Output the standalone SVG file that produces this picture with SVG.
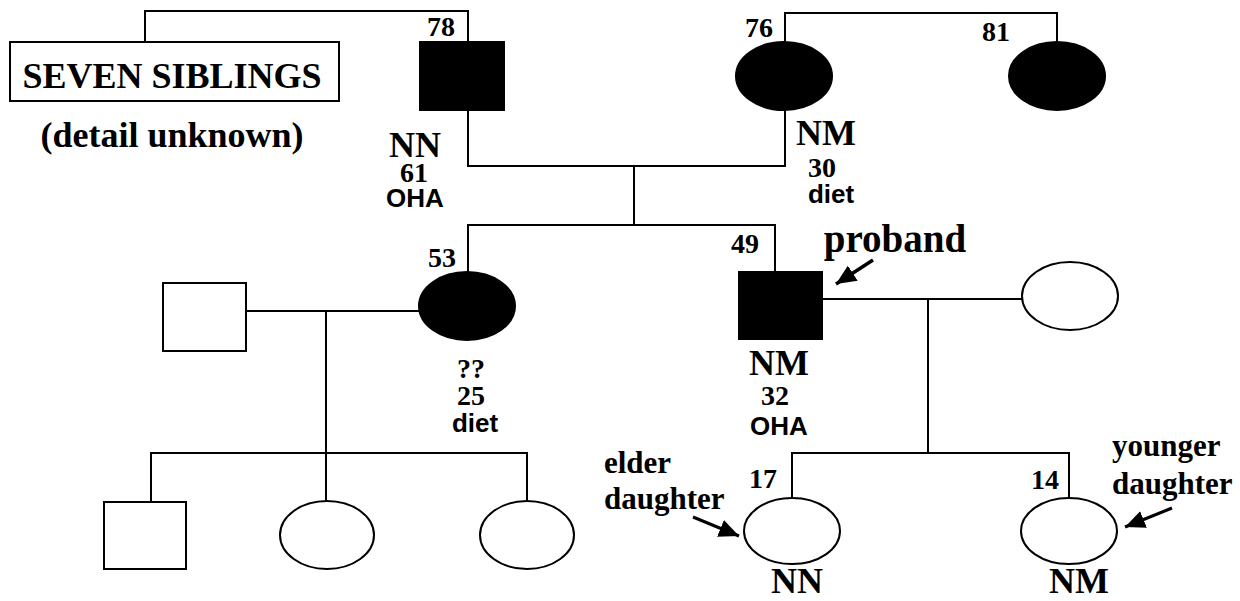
<svg xmlns="http://www.w3.org/2000/svg" width="1240" height="601" viewBox="0 0 1240 601">
  <defs>
    <marker id="arrowhead" markerUnits="userSpaceOnUse" markerWidth="22" markerHeight="18" refX="20" refY="9" orient="auto">
      <path d="M0,0 L20,9 L0,18 Z" fill="#000"/>
    </marker>
  </defs>
  <style>
    .ln{fill:none;stroke:#000;stroke-width:2}
    .ptr{fill:none;stroke:#000;stroke-width:3}
    .aff{fill:#000;stroke:#000;stroke-width:2}
    .unaff{fill:#fff;stroke:#000;stroke-width:2}
    .big{font-family:"Liberation Serif","Times New Roman",serif;font-weight:bold;font-size:36px;text-anchor:middle;fill:#000}
    .age{font-family:"Liberation Serif","Times New Roman",serif;font-weight:bold;font-size:28px;text-anchor:middle;fill:#000}
    .tx{font-family:"Liberation Sans",Arial,sans-serif;font-weight:bold;font-size:26px;text-anchor:middle;fill:#000}
    .tag{font-family:"Liberation Serif","Times New Roman",serif;font-weight:bold;font-size:31px;fill:#000}
  </style>
  <rect width="1240" height="601" fill="#fff"/>

  <!-- connectors: sibship, marriage and descent lines, plus pointer arrows -->
  <g id="connectors">
    <path class="ln" d="M145,42 V11 H468 V42"/>
    <path class="ln" d="M468,110 V166 H785 V110"/>
    <path class="ln" d="M785,42 V13 H1057 V42"/>
    <path class="ln" d="M634,166 V225"/>
    <path class="ln" d="M468,272 V225 H775 V272"/>
    <path class="ln" d="M246,311 H420"/>
    <path class="ln" d="M326,311 V501"/>
    <path class="ln" d="M151,502 V453 H527 V501"/>
    <path class="ln" d="M822,299 H1022"/>
    <path class="ln" d="M928,299 V453"/>
    <path class="ln" d="M792,499 V453 H1069 V499"/>
    <line class="ptr" x1="873" y1="260" x2="836" y2="284" marker-end="url(#arrowhead)" style="stroke-width:3.5"/>
    <line class="ptr" x1="693" y1="517" x2="739" y2="536" marker-end="url(#arrowhead)"/>
    <line class="ptr" x1="1172" y1="508" x2="1125" y2="527" marker-end="url(#arrowhead)"/>
  </g>

  <!-- generation I -->
  <g id="seven-siblings">
    <rect class="unaff" x="10" y="42" width="329" height="59"/>
    <text class="big" x="172" y="88">SEVEN SIBLINGS</text>
    <text class="big" x="172" y="147">(detail unknown)</text>
  </g>
  <g id="grandfather">
    <rect class="aff" x="420" y="42" width="84" height="68"/>
    <text class="age" x="441" y="36">78</text>
    <text class="big" x="415" y="157">NN</text>
    <text class="age" x="414" y="182">61</text>
    <text class="tx" x="415" y="207">OHA</text>
  </g>
  <g id="grandmother">
    <ellipse class="aff" cx="784" cy="76" rx="48" ry="34"/>
    <text class="age" x="759" y="37">76</text>
    <text class="big" x="826" y="145">NM</text>
    <text class="age" x="822" y="177">30</text>
    <text class="tx" x="831" y="203">diet</text>
  </g>
  <g id="great-aunt">
    <ellipse class="aff" cx="1057" cy="76" rx="48" ry="34"/>
    <text class="age" x="996" y="41">81</text>
  </g>

  <!-- generation II -->
  <g id="aunt-spouse">
    <rect class="unaff" x="163" y="283" width="83" height="68"/>
  </g>
  <g id="aunt">
    <ellipse class="aff" cx="467" cy="306" rx="48" ry="34"/>
    <text class="age" x="442" y="267">53</text>
    <text class="age" x="471" y="378">??</text>
    <text class="age" x="471" y="405">25</text>
    <text class="tx" x="475" y="432">diet</text>
  </g>
  <g id="proband">
    <rect class="aff" x="739" y="272" width="83" height="67"/>
    <text class="age" x="745" y="253">49</text>
    <text class="big" x="895" y="252" style="font-size:39px">proband</text>
    <text class="big" x="779" y="375">NM</text>
    <text class="age" x="775" y="405">32</text>
    <text class="tx" x="779" y="435">OHA</text>
  </g>
  <g id="proband-wife">
    <ellipse class="unaff" cx="1070" cy="296" rx="48" ry="34"/>
  </g>

  <!-- generation III -->
  <g id="cousin-1">
    <rect class="unaff" x="104" y="502" width="82" height="67"/>
  </g>
  <g id="cousin-2">
    <ellipse class="unaff" cx="327" cy="535" rx="47" ry="34"/>
  </g>
  <g id="cousin-3">
    <ellipse class="unaff" cx="527" cy="535" rx="47" ry="34"/>
  </g>
  <g id="elder-daughter">
    <ellipse class="unaff" cx="792" cy="531" rx="48" ry="33"/>
    <text class="age" x="763" y="488">17</text>
    <text class="tag" x="604" y="473">elder</text>
    <text class="tag" x="604" y="509">daughter</text>
    <text class="big" x="797" y="593">NN</text>
  </g>
  <g id="younger-daughter">
    <ellipse class="unaff" cx="1069" cy="531" rx="48" ry="33"/>
    <text class="age" x="1045" y="489">14</text>
    <text class="tag" x="1112" y="456">younger</text>
    <text class="tag" x="1112" y="494">daughter</text>
    <text class="big" x="1079" y="593">NM</text>
  </g>
</svg>
